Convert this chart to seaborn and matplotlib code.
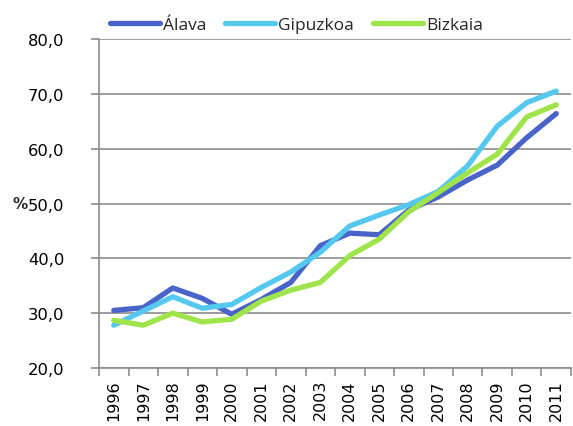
import numpy as np
import pandas as pd
import matplotlib
matplotlib.use('Agg')
import matplotlib.pyplot as plt
import seaborn as sns
from matplotlib.ticker import FixedLocator, FuncFormatter

# Dados
anos = ['1996', '1997', '1998', '1999', '2000', '2001', '2002', '2003',
        '2004', '2005', '2006', '2007', '2008', '2009', '2010', '2011']
alava = [30.5, 31.0, 34.6, 32.7, 29.8, 32.5, 35.6, 42.3,
         44.6, 44.3, 48.8, 51.2, 54.3, 57.0, 62.0, 66.4]
gipuzkoa = [27.8, 30.4, 33.0, 30.9, 31.6, 34.7, 37.5, 41.1,
            45.9, 47.9, 49.8, 52.2, 56.9, 64.1, 68.4, 70.5]
bizkaia = [28.7, 27.8, 30.0, 28.4, 28.9, 32.2, 34.2, 35.6,
           40.5, 43.5, 48.5, 52.0, 55.6, 59.0, 65.8, 68.0]
series = ['Álava', 'Gipuzkoa', 'Bizkaia']
cores = ['#4a63c8', '#55c8f0', '#9ee44a']

df = pd.DataFrame({'Ano': list(range(len(anos))) * 3,
                   'Valor': alava + gipuzkoa + bizkaia,
                   'Serie': [s for s in series for _ in anos]})

sns.set_style('white')
plt.rcParams['font.family'] = ['DejaVu Sans']

fig = plt.figure(figsize=(5.73, 4.27), dpi=100)
ax = fig.add_axes([0.1728, 0.1358, 0.8237, 0.7705])

sns.lineplot(data=df, x='Ano', y='Valor', hue='Serie', palette=cores,
             linewidth=3.8, ax=ax, legend=True)

# Eixos
ax.set_ylim(20, 80)
ax.set_xlim(-0.5, len(anos) - 0.5)
ax.set_yticks(np.arange(20, 81, 10))
ax.yaxis.set_major_formatter(FuncFormatter(lambda v, p: f'{v:.1f}'.replace('.', ',')))
ax.set_xticks(range(len(anos)))
ax.set_xticklabels(anos, rotation=90)
ax.xaxis.set_minor_locator(FixedLocator(np.arange(-0.5, len(anos), 1)))
ax.tick_params(axis='x', which='major', length=0, pad=8, labelsize=11.5, colors='black')
ax.tick_params(axis='x', which='minor', length=6, width=1.2, color='#8c8c8c', direction='out', bottom=True)
ax.tick_params(axis='y', length=6, width=1.2, color='#8c8c8c', direction='out', left=True,
               labelsize=11.8, labelcolor='black', pad=19)

ax.grid(axis='y', color='#8c8c8c', linewidth=1.2)
ax.set_axisbelow(True)
for lado in ['top', 'right']:
    ax.spines[lado].set_visible(False)
for lado in ['left', 'bottom']:
    ax.spines[lado].set_color('#8c8c8c')
    ax.spines[lado].set_linewidth(1.2)

ax.set_xlabel('')
ax.set_ylabel('%', rotation=0, fontsize=11, fontweight='bold', va='center', ha='right')
ax.yaxis.set_label_coords(-0.151, 0.5)

# Legenda
handles, labels = ax.get_legend_handles_labels()
ax.legend_.remove()
fig.legend(handles, labels, loc='center', bbox_to_anchor=(0.517, 0.94), ncol=3,
           frameon=False, handlelength=2.9, handletextpad=0.15, columnspacing=1.1,
           prop={'family': 'Open Sans', 'size': 12.5})

fig.savefig('out.png', dpi=100)
